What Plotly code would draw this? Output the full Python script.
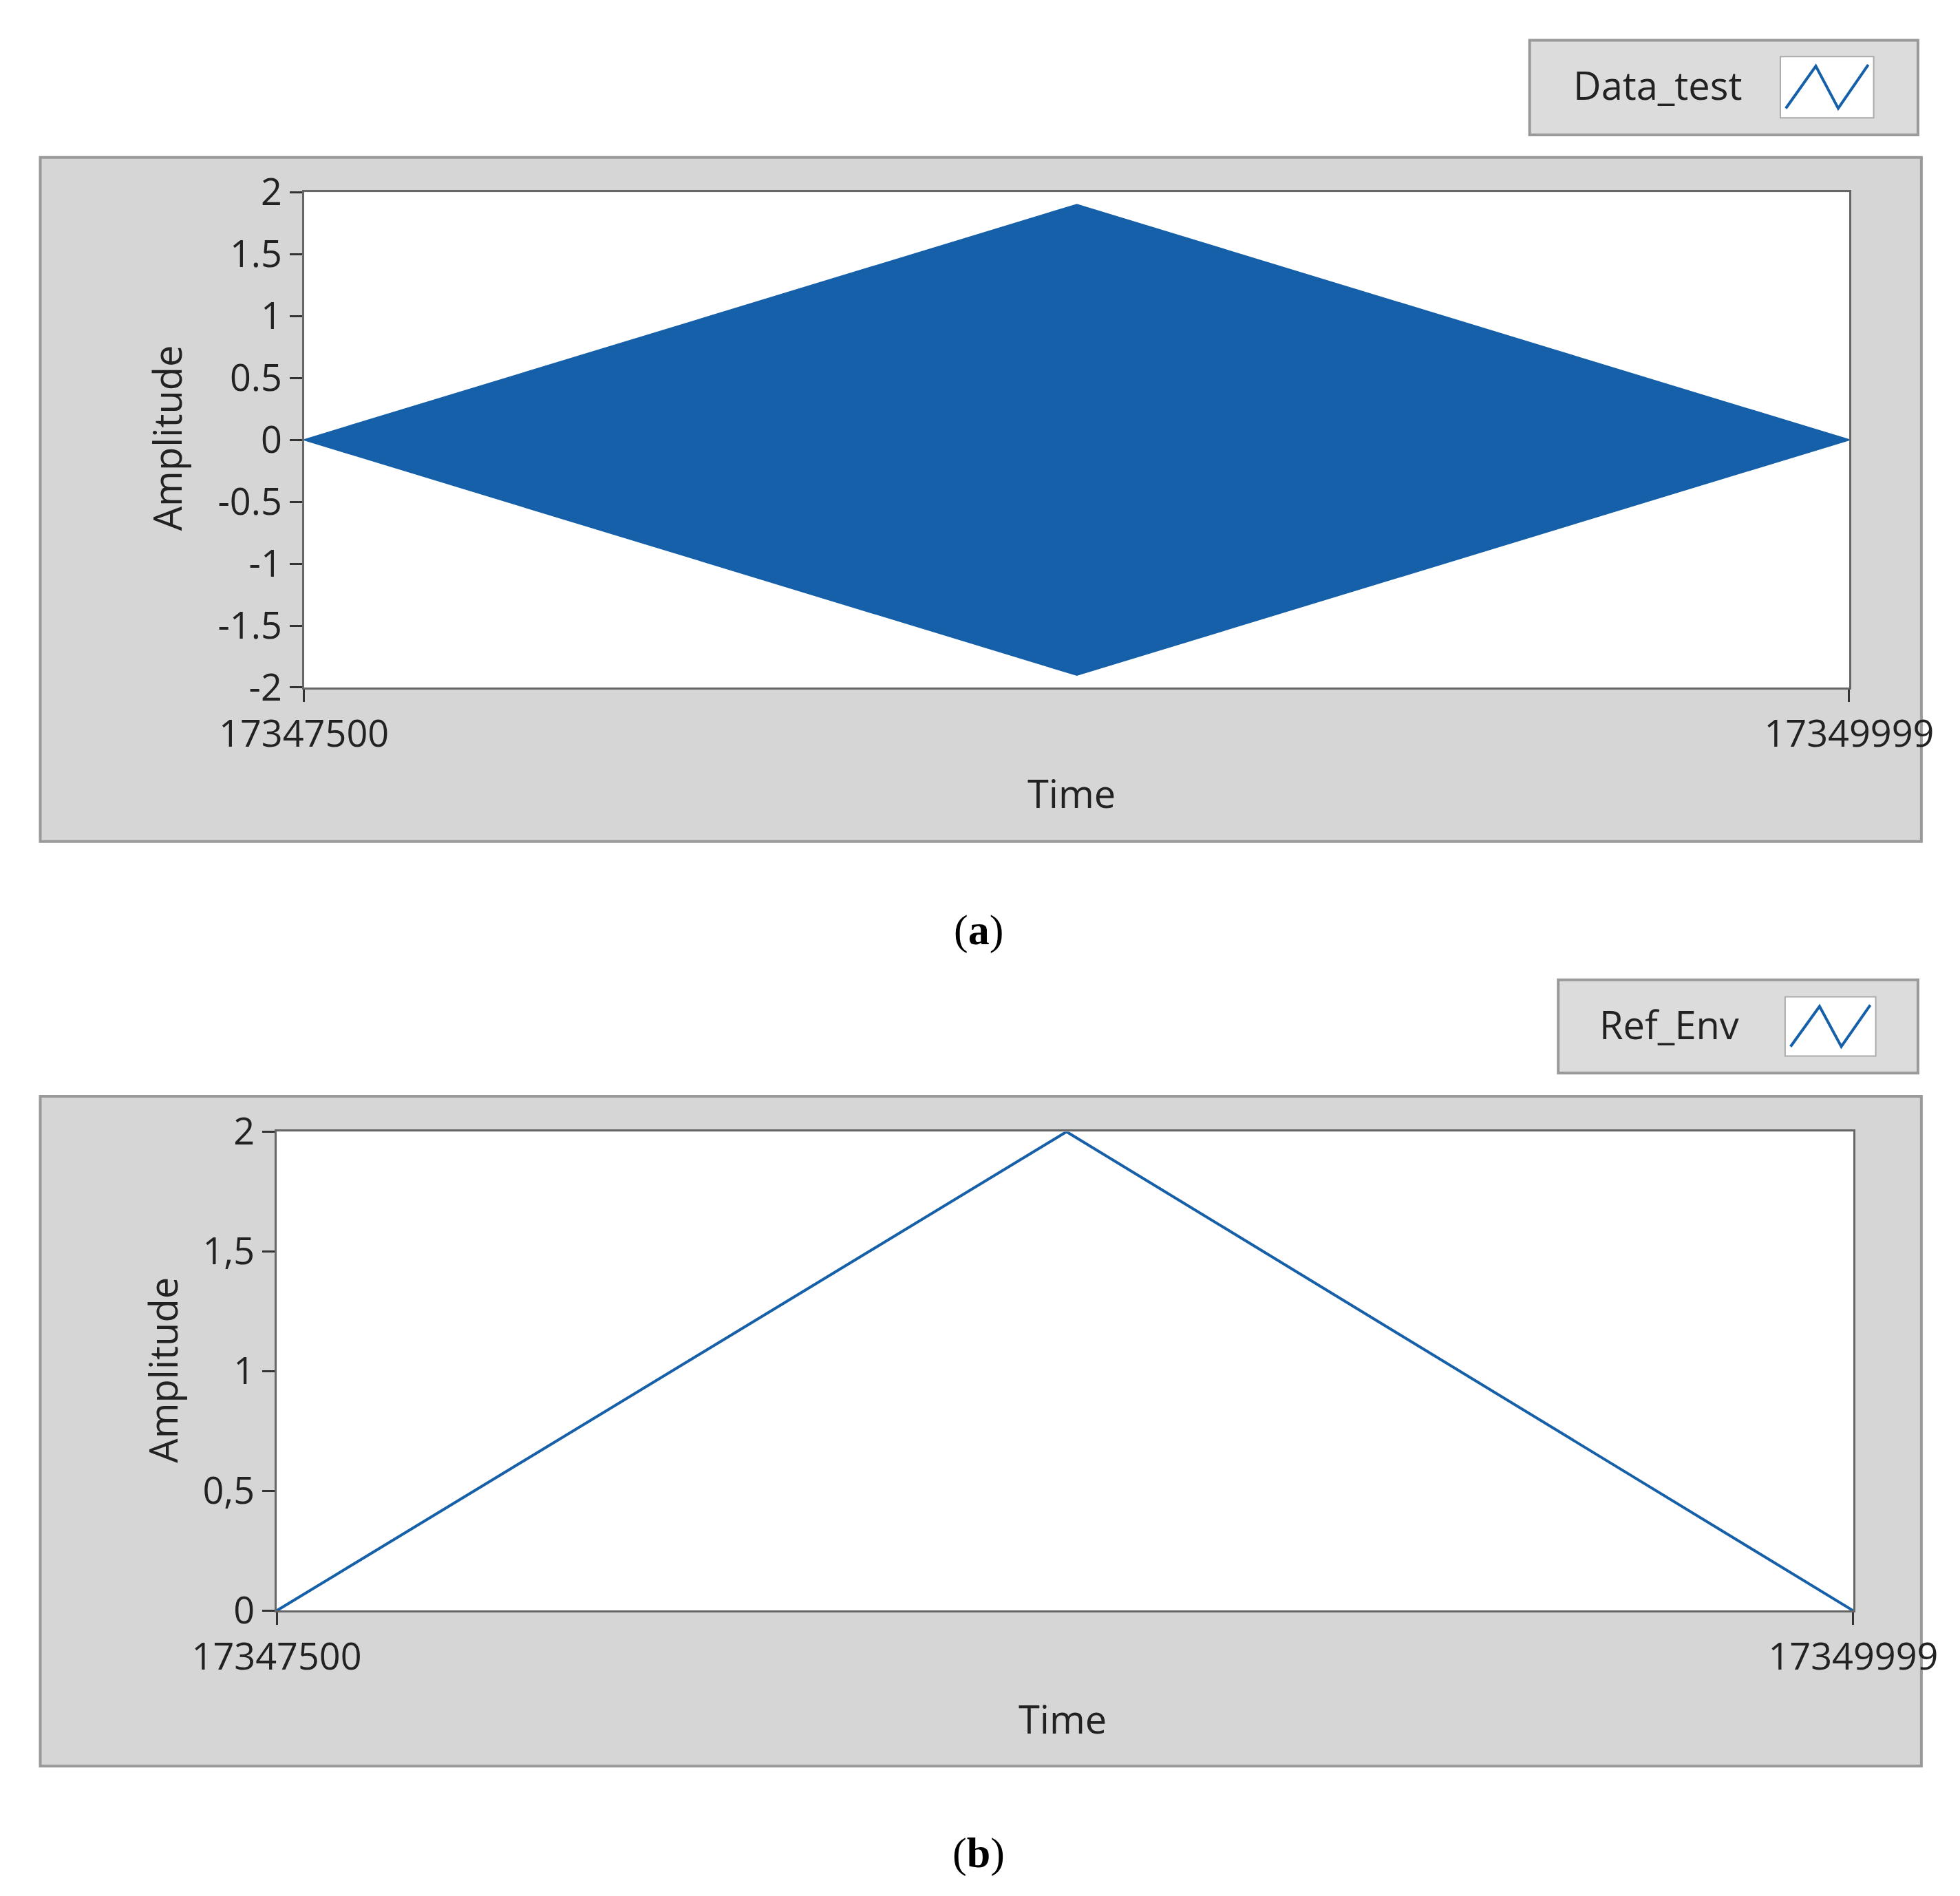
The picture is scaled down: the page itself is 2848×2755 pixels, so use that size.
import plotly.graph_objects as go

# Data
env_x = [17347500, 17348750, 17349999]
env_peak = [0.0, 1.9, 0.0]
ref_x = [17347500, 17348752, 17349999]
ref_y = [0.0, 2.0, 0.0]
x_ticks = [17347500, 17349999]
top_yticks = [-2, -1.5, -1, -0.5, 0, 0.5, 1, 1.5, 2]
top_ylabels = ["-2", "-1.5", "-1", "-0.5", "0", "0.5", "1", "1.5", "2"]
bot_yticks = [0, 0.5, 1, 1.5, 2]
bot_ylabels = ["0", "0,5", "1", "1,5", "2"]

W, H = 2848, 2755
BLUE = "#1560a8"
FONT = "Open Sans"
S = 0.99  # scale correction

def px(x): return x * S / W
def py(y): return 1 - y * S / H

fig = go.Figure()
poly_x = env_x + env_x[::-1]
poly_y = env_peak + [-v for v in env_peak[::-1]]
fig.add_trace(go.Scatter(x=poly_x, y=poly_y, fill="toself", fillcolor=BLUE,
                         line=dict(color=BLUE, width=2), mode="lines",
                         xaxis="x", yaxis="y", showlegend=False))
fig.add_trace(go.Scatter(x=ref_x, y=ref_y, mode="lines", line=dict(color=BLUE, width=4),
                         xaxis="x2", yaxis="y2", showlegend=False))

ax_common = dict(showgrid=False, zeroline=False, ticks="outside", ticklen=18, tickwidth=3,
                 tickcolor="#333", tickfont=dict(family=FONT, size=54, color="#222"),
                 linecolor="#666", linewidth=3, mirror=True, showline=True, automargin=False)
P1 = (438, 274, 2706, 1001)
P2 = (398, 1653, 2712, 2356)
fig.update_layout(
    width=W, height=H, margin=dict(l=0, r=0, t=0, b=0, autoexpand=False),
    paper_bgcolor="white", plot_bgcolor="white",
    xaxis=dict(domain=[px(P1[0]), px(P1[2])], anchor="y", range=[17347500, 17349999],
               tickvals=x_ticks, ticktext=[str(v) for v in x_ticks], **ax_common),
    yaxis=dict(domain=[py(P1[3]), py(P1[1])], anchor="x", range=[-2, 2],
               tickvals=top_yticks, ticktext=top_ylabels, **ax_common),
    xaxis2=dict(domain=[px(P2[0]), px(P2[2])], anchor="y2", range=[17347500, 17349999],
                tickvals=x_ticks, ticktext=[str(v) for v in x_ticks], **ax_common),
    yaxis2=dict(domain=[py(P2[3]), py(P2[1])], anchor="x2", range=[0, 2],
                tickvals=bot_yticks, ticktext=bot_ylabels, **ax_common),
)

shapes = []
def box(x0, y0, x1, y1, fill, line="#9a9a9a", lw=4, layer="below"):
    shapes.append(dict(type="rect", xref="paper", yref="paper", x0=px(x0), x1=px(x1),
                       y0=py(y1), y1=py(y0), fillcolor=fill, line=dict(color=line, width=lw),
                       layer=layer))
box(51, 223, 2812, 1227, "#d6d6d6")
box(51, 1601, 2812, 2584, "#d6d6d6")
box(*P1, "white", line="rgba(0,0,0,0)", lw=0)
box(*P2, "white", line="rgba(0,0,0,0)", lw=0)
box(2237, 51, 2807, 190, "#dcdcdc")
box(2279, 1430, 2807, 1567, "#dcdcdc")
box(2605, 75, 2742, 165, "white", line="#aaa", lw=2)
box(2612, 1455, 2745, 1542, "white", line="#aaa", lw=2)
for (x0, y0, x1, y1) in [(2605, 75, 2742, 165), (2612, 1455, 2745, 1542)]:
    xs = [x0 + 8, x0 + (x1 - x0) * 0.38, x0 + (x1 - x0) * 0.62, x1 - 8]
    ys = [y1 - 14, y0 + 14, y1 - 14, y0 + 12]
    path = "M " + " L ".join(f"{px(a)},{py(b)}" for a, b in zip(xs, ys))
    shapes.append(dict(type="path", xref="paper", yref="paper", path=path,
                       line=dict(color=BLUE, width=4)))
fig.update_layout(shapes=shapes)

ann = []
def text(x, y, s, size=56, angle=0, family=FONT, color="#222"):
    ann.append(dict(xref="paper", yref="paper", x=px(x), y=py(y), text=s, showarrow=False,
                    xanchor="center", yanchor="middle",
                    textangle=angle, font=dict(family=family, size=size, color=color)))
text(2425, 116, "Data_test")
text(2442, 1495, "Ref_Env")
text(1565, 1156, "Time")
text(1552, 2514, "Time")
text(236, 635, "Amplitude", angle=-90)
text(230, 2003, "Amplitude", angle=-90)
text(1428, 1357, "(<b>a</b>)", size=62, family="Liberation Serif", color="black")
text(1428, 2712, "(<b>b</b>)", size=62, family="Liberation Serif", color="black")
fig.update_layout(annotations=ann)

fig.write_html("out.html")
